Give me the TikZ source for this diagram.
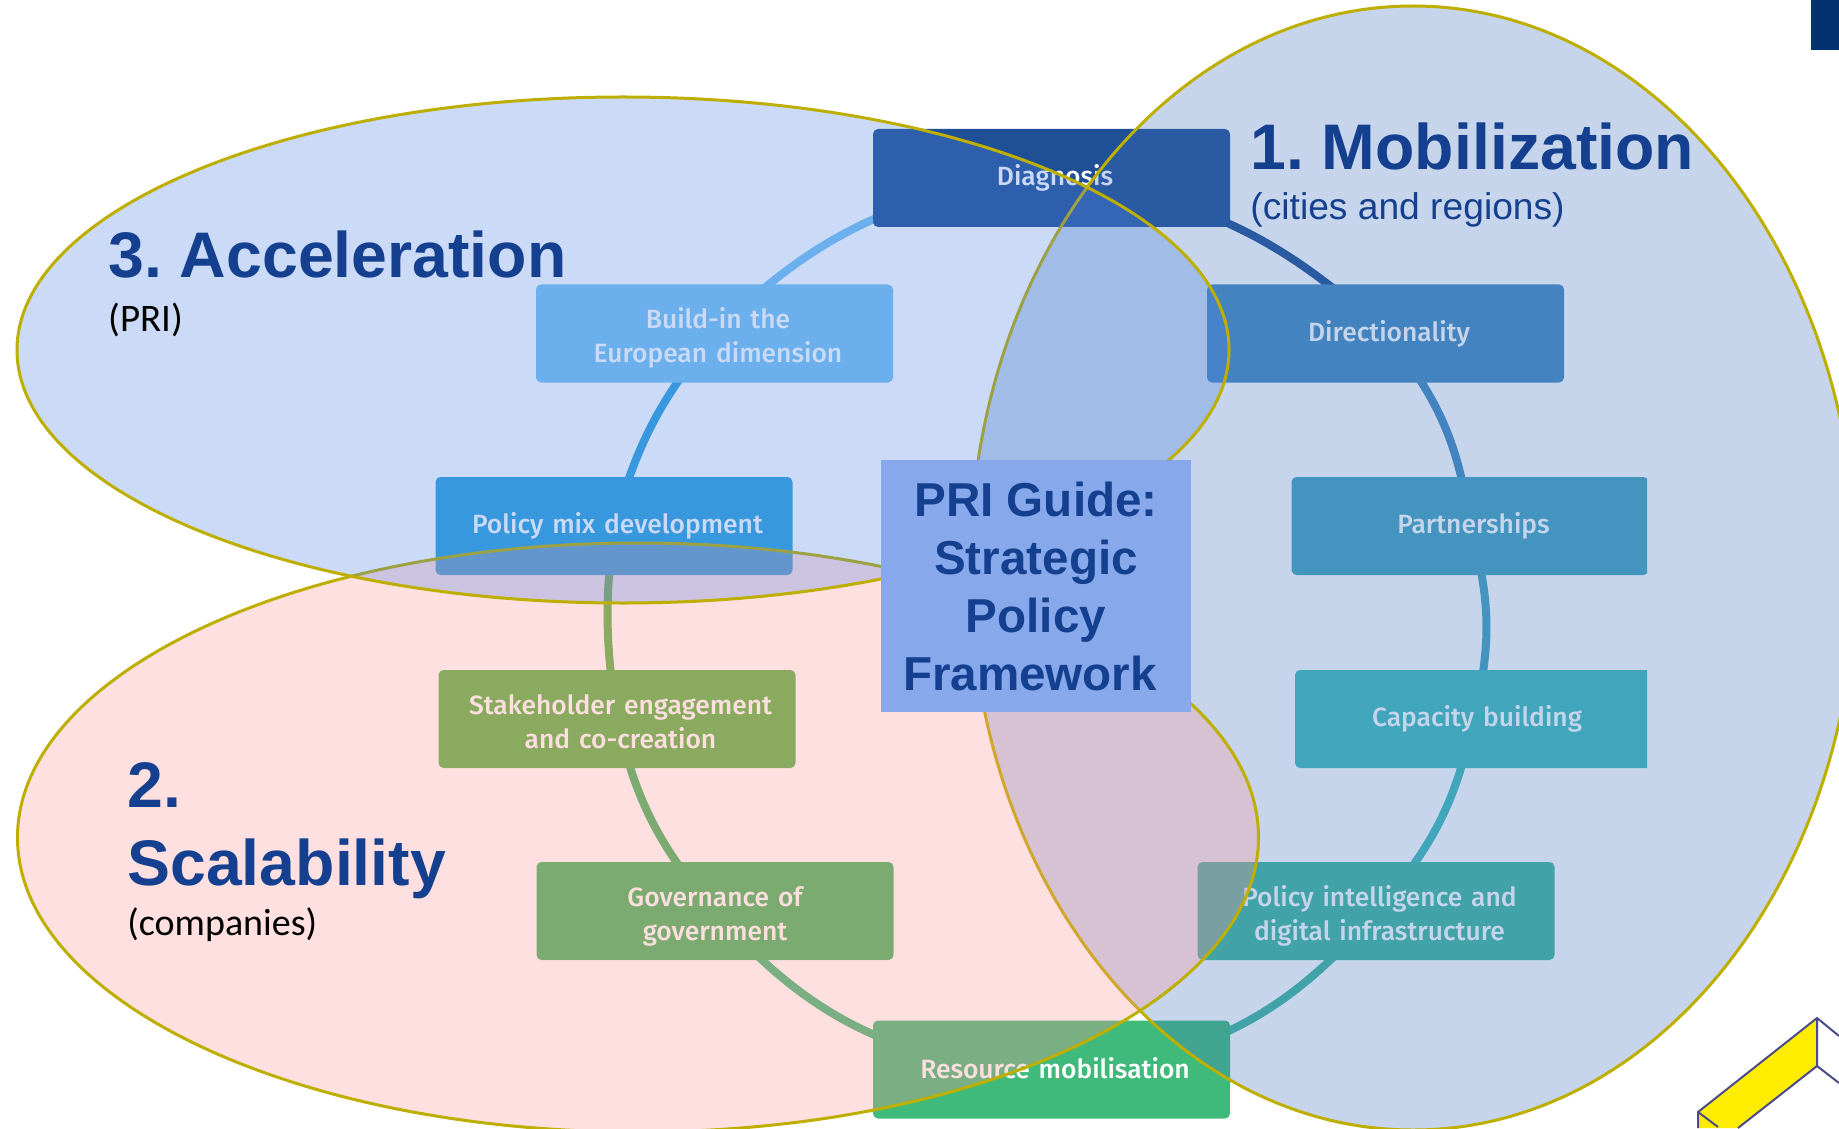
\documentclass[tikz,border=0pt]{standalone}
\usepackage{fontspec}
\setmainfont{Fira Sans Medium}
\newfontfamily\headfont{Liberation Sans}
\newfontfamily\notefont{Carlito}
\usetikzlibrary{backgrounds}
\definecolor{headblue}{HTML}{15408F}
\definecolor{edgegold}{HTML}{BDAE00}
\definecolor{diagcol}{HTML}{1F5096}
\definecolor{dirncol}{HTML}{458AC0}
\definecolor{partcol}{HTML}{44A4C0}
\definecolor{capacol}{HTML}{41BDBA}
\definecolor{intelcol}{HTML}{41B89E}
\definecolor{rescol}{HTML}{40BA7A}
\definecolor{govcol}{HTML}{44B462}
\definecolor{stakecol}{HTML}{58B349}
\definecolor{mixcol}{HTML}{2DA2DD}
\definecolor{buildcol}{HTML}{76C3F1}
\tikzset{
  stagebox/.style={rectangle,rounded corners=2.5pt,minimum width=178.5pt,minimum height=49pt,text width=178.5pt,
    inner sep=0pt,align=center,text=white,font=\fontsize{13.2}{17}\selectfont,
    execute at begin node=\advance\leftskip 3.5pt\relax},
  twolines/.style={execute at begin node=\rule{0pt}{#1}},
  twolines/.default=15pt,
  ringarc/.style={line width=4pt},
  zone/.style={draw=edgegold,line width=1.5pt,fill opacity=0.3},
  heading/.style={anchor=base west,inner sep=0pt,text=headblue,font=\headfont\bfseries\fontsize{32.2}{39}\selectfont},
}
\begin{document}
\begin{tikzpicture}[x=0.5pt,y=-0.5pt]
        \useasboundingbox (0,0) rectangle (1839,1128);
        \frenchspacing

        % stages around the ring
        \node[stagebox,fill=diagcol] (diag) at (1051.5,178) {Diagnosis};
        \node[stagebox,fill=dirncol] (dirn) at (1385.5,333.5) {Directionality};
        \begin{scope}
            \clip (0,0) rectangle (1647,1128);
            \node[stagebox,fill=partcol] (part) at (1470,526) {Partnerships};
            \node[stagebox,fill=capacol] (capa) at (1473.5,719) {Capacity building};
        \end{scope}
        \node[stagebox,twolines,fill=intelcol] (intel) at (1376,911) {Policy intelligence and\\digital infrastructure};
        \node[stagebox,fill=rescol] (res) at (1051.5,1069.5) {\raisebox{1.2pt}{Resource mobilisation}};
        \node[stagebox,twolines,fill=govcol] (gov) at (715,911) {\hspace*{-3.5pt}Governance of\\\hspace*{-3.5pt}government};
        \node[stagebox,twolines=12.7pt,fill=stakecol] (stake) at (617,719) {Stakeholder engagement\\and co-creation};
        \node[stagebox,fill=mixcol] (mix) at (614,526) {Policy mix development};
        \node[stagebox,twolines,fill=buildcol] (build) at (714.5,333.5) {Build-in the\\European dimension};

        % ring segments behind the stages
        \begin{scope}[on background layer]
            \draw[ringarc,diagcol] (diag.center) to[bend left=18] (dirn.center);
            \draw[ringarc,dirncol] (dirn.center) to[bend left=16] (part.center);
            \draw[ringarc,partcol] (part.center) to[bend left=15] (capa.center);
            \draw[ringarc,capacol] (capa.center) to[bend left=15] (intel.center);
            \draw[ringarc,intelcol] (intel.center) to[bend left=24] (res.center);
            \draw[ringarc,rescol] (res.center) to[bend left=24] (gov.center);
            \draw[ringarc,govcol] (gov.center) to[bend left=14] (stake.center);
            \draw[ringarc,stakecol] (stake.center) to[bend left=8] (mix.center);
            \draw[ringarc,mixcol] (mix.center) to[bend left=12] (build.center);
            \draw[ringarc,buildcol] (build.center) to[bend left=20] (diag.center);
        \end{scope}

        % the three overlapping zones
        \draw[zone,fill={rgb,255:red,65;green,115;blue,192}] (1413,568) ellipse [x radius=443,y radius=562];
        \draw[zone,fill={rgb,255:red,255;green,151;blue,151}] (638,837.5) ellipse [x radius=620.5,y radius=294.5];
        \draw[zone,fill={rgb,255:red,82;green,132;blue,225}] (623,350) ellipse [x radius=606,y radius=253];

        % centre box
        \node[rectangle,fill={rgb,255:red,135;green,169;blue,236},minimum width=155pt,minimum height=126pt,inner sep=0pt,
            align=center,text=headblue,font=\headfont\bfseries\fontsize{23.8}{29}\selectfont] (guide) at (1036,586)
            {PRI Guide:\\Strategic\\Policy\\Framework\hspace*{6pt}};

        % headings
        \node[heading] (mobil) at (1250,170) {1. Mobilization};
        \node[anchor=base west,inner sep=0pt,text=headblue,font=\headfont\fontsize{18.6}{22}\selectfont] (mobilsub) at (1250,220) {(cities and regions)};
        \node[heading] (accel) at (108,278) {3. Acceleration};
        \node[anchor=base west,inner sep=0pt,font=\notefont\fontsize{19.5}{24}\selectfont] (accelsub) at (108,331) {(PRI)};
        \node[heading] (scale) at (127,807) {2.};
        \node[heading] (scalename) at (127,885) {Scalability};
        \node[anchor=base west,inner sep=0pt,font=\notefont\fontsize{19}{24}\selectfont] (scalesub) at (127,935) {(companies)};

        % corner marks
        \fill[fill={rgb,255:red,4;green,49;blue,111}] (1811,0) rectangle (1839,50);
        \fill[yellow!95!orange] (1698,1112) -- (1817,1018) -- (1817,1066) -- (1738,1128) -- (1698,1128) -- cycle;
        \draw[line width=1pt,draw={rgb,255:red,75;green,75;blue,140}] (1839,1036) -- (1817,1018) -- (1698,1112) -- (1698,1128);
        \draw[line width=1pt,draw={rgb,255:red,75;green,75;blue,140}] (1817,1018) -- (1817,1066) -- (1738,1128);
        \draw[line width=1pt,draw={rgb,255:red,75;green,75;blue,140}] (1817,1066) -- (1839,1083);
        \draw[line width=1pt,draw={rgb,255:red,75;green,75;blue,140}] (1698,1112) -- (1718,1127);
\end{tikzpicture}
\end{document}
